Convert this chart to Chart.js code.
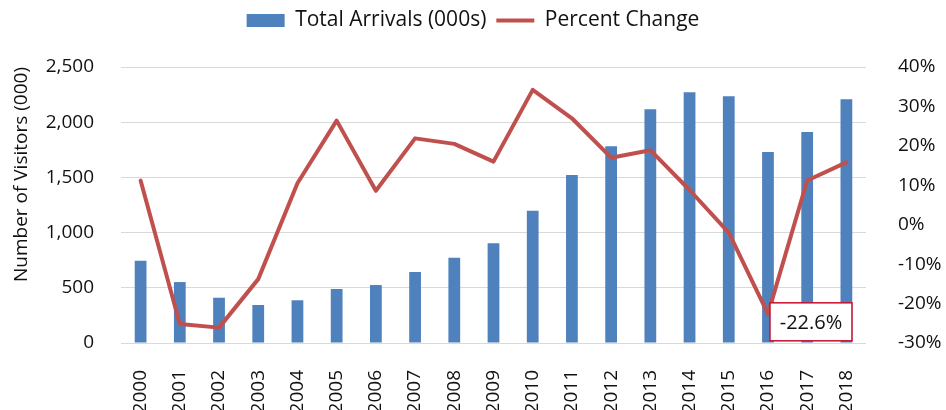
<!DOCTYPE html>
<html>
<head>
<meta charset="utf-8">
<script src="https://cdn.jsdelivr.net/npm/chart.js@4"></script>
<style>
  html, body { margin: 0; padding: 0; background: #fff; }
  #wrap { width: 946px; height: 410px; }
</style>
</head>
<body>
<div id="wrap"><canvas id="arrivalsChart" width="946" height="410"></canvas></div>
<script>
const years = ['2000', '2001', '2002', '2003', '2004', '2005', '2006', '2007', '2008', '2009',
  '2010', '2011', '2012', '2013', '2014', '2015', '2016', '2017', '2018'];
const arrivals = [745, 552, 410, 344, 387, 489, 525, 643, 773, 903,
  1198, 1522, 1782, 2117, 2271, 2234, 1730, 1911, 2207];
const pctChange = [11.2, -25.2, -26.1, -13.8, 10.5, 26.4, 8.6, 21.9, 20.5, 16.0,
  34.2, 27.0, 17.0, 18.9, 8.8, -2.0, -22.6, 11.2, 15.8];
const leftTicks = [0, 2500, 500];
const rightTicks = [-30, 40, 10];
const calloutIndex = 16;

const FONT = "'Open Sans', 'Noto Sans', sans-serif";
const TEXT = '#111';

// stretch the legend box so the plot starts lower, like the original
const legendGap = {
  id: 'legendGap',
  beforeLayout(chart) {
    const lg = chart.legend;
    if (lg && !lg._gapPatched) {
      const fit = lg.fit;
      lg.fit = function () { fit.call(this); this.height = 67; };
      lg._gapPatched = true;
    }
  }
};

// boxed data label on the 2016 point
const callout = {
  id: 'callout',
  afterDatasetsDraw(chart) {
    const meta = chart.getDatasetMeta(1);
    const pt = meta.data[calloutIndex];
    if (!pt) return;
    const ctx = chart.ctx;
    const x = pt.x + 2, y = pt.y - 11, w = 82, h = 38;
    ctx.save();
    ctx.fillStyle = '#fff';
    ctx.fillRect(x, y, w, h);
    ctx.strokeStyle = '#C8102E';
    ctx.lineWidth = 1.5;
    ctx.strokeRect(x, y, w, h);
    ctx.fillStyle = TEXT;
    ctx.font = '20px ' + FONT;
    ctx.textAlign = 'center';
    ctx.textBaseline = 'middle';
    ctx.fillText(pctChange[calloutIndex].toFixed(1) + '%', x + w / 2, y + h / 2 + 1);
    ctx.restore();
  }
};

const ctx = document.getElementById('arrivalsChart').getContext('2d');
new Chart(ctx, {
  data: {
    labels: years,
    datasets: [{
      type: 'bar',
      label: 'Total Arrivals (000s)',
      data: arrivals,
      backgroundColor: '#4F81BD',
      borderWidth: 0,
      barPercentage: 0.3,
      categoryPercentage: 1,
      pointStyle: 'rect',
      yAxisID: 'y',
      order: 1
    }, {
      type: 'line',
      label: 'Percent Change',
      data: pctChange,
      borderColor: '#C0504D',
      backgroundColor: '#C0504D',
      borderWidth: 4,
      pointRadius: 0,
      pointHoverRadius: 0,
      pointStyle: 'line',
      tension: 0,
      borderCapStyle: 'round',
      borderJoinStyle: 'round',
      yAxisID: 'y1',
      order: 0
    }]
  },
  options: {
    responsive: false,
    animation: false,
    layout: { padding: 0 },
    plugins: {
      tooltip: { enabled: false },
      legend: {
        position: 'top',
        labels: {
          usePointStyle: true,
          pointStyleWidth: 38,
          boxHeight: 13,
          padding: 10,
          color: TEXT,
          font: { family: FONT, size: 21 },
          sort: (a, b) => a.datasetIndex - b.datasetIndex
        }
      }
    },
    scales: {
      x: {
        grid: { display: false },
        border: { display: false },
        ticks: {
          color: TEXT,
          font: { family: FONT, size: 19 },
          minRotation: 90,
          maxRotation: 90,
          autoSkip: false,
          padding: 19
        },
        afterFit: s => { s.height = 67; }
      },
      y: {
        position: 'left',
        min: leftTicks[0],
        max: leftTicks[1],
        grid: { color: '#D9D9D9', lineWidth: 1, drawTicks: false },
        border: { display: false },
        ticks: {
          stepSize: leftTicks[2],
          color: TEXT,
          font: { family: FONT, size: 19 },
          padding: 27,
          callback: v => v.toLocaleString('en-US')
        },
        title: {
          display: true,
          text: 'Number of Visitors (000)',
          align: 'end',
          color: TEXT,
          font: { family: FONT, size: 19 },
          padding: { top: 10, bottom: 0 }
        },
        afterFit: s => { s.width = 121; }
      },
      y1: {
        position: 'right',
        min: rightTicks[0],
        max: rightTicks[1],
        grid: { display: false },
        border: { display: false },
        ticks: {
          stepSize: rightTicks[2],
          color: TEXT,
          font: { family: FONT, size: 19 },
          padding: 24,
          callback: v => v + '%'
        },
        afterFit: s => { s.width = 80; }
      }
    }
  },
  plugins: [legendGap, callout]
});
</script>
</body>
</html>
